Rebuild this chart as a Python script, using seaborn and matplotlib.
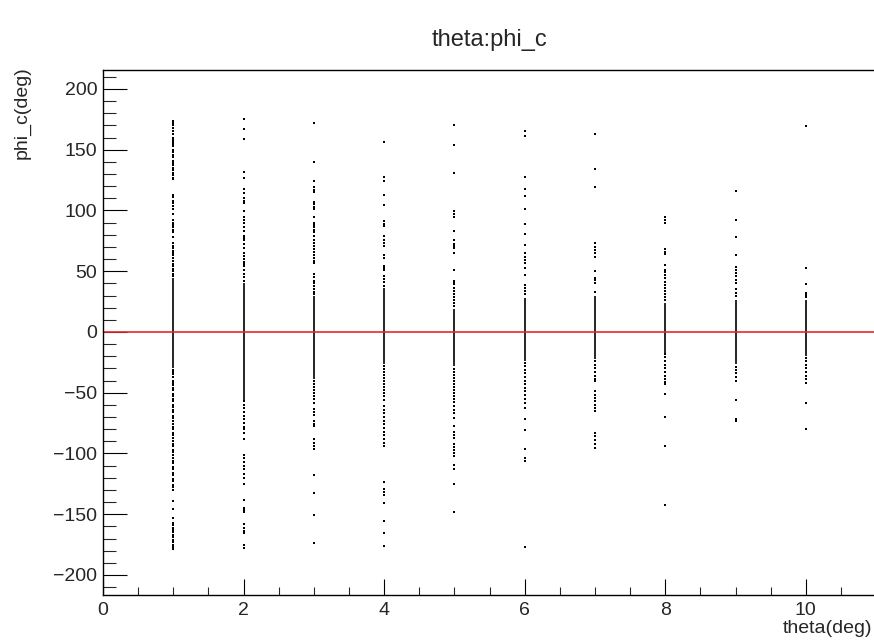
import matplotlib
matplotlib.use("Agg")
import matplotlib.pyplot as plt
from matplotlib.ticker import MultipleLocator
import pandas as pd
import seaborn as sns

# theta of each column (deg)
thetas = [1, 2, 3, 4, 5, 6, 7, 8, 9, 10]

# range where the markers overlap into a solid core
core_lo = [-29.5, -55.6, -39.0, -26.7, -28.0, -24.0, -22.6, -17.1, -26.7, -19.9]
core_hi = [44.6, 40.0, 29.5, 35.9, 18.5, 28.0, 29.5, 24.0, 26.5, 26.7]

# single events outside the core
phi_1 = [174, 172, 170, 168, 165, 163, 160, 158, 156, 155, 153, 150, 148, 146,
         144, 141, 139, 137, 135, 133, 131, 129, 127, 125.5, 113, 111, 108, 106,
         104, 101, 97, 92, 90, 88, 86, 84, 82, 78, 73, 71, 69, 67, 65, 63, 61,
         58, 56, 54, 52, 50, 48, 46,
         -31, -33, -35, -37, -40, -42, -44, -46, -48, -51, -53, -55, -57, -60,
         -62, -64, -66, -69, -71, -73, -76, -78, -80, -83, -85, -87, -90, -92,
         -94, -97, -99, -101, -104, -106, -108, -111, -113, -116, -118, -121,
         -123, -126, -128, -130, -139, -146, -153, -157, -159, -161, -163, -165,
         -167, -169, -171, -173, -175, -177, -179]
phi_2 = [175, 167, 159, 132, 127, 118, 114.5, 110, 108, 106, 99.5, 95, 92.5, 90,
         86, 83, 78.8, 77, 75.5, 72, 69.3, 65, 62.5, 60, 57.5, 55.6, 54, 51, 48,
         45, 42,
         -57, -60, -63, -66, -69, -72, -75, -78, -80, -83, -88.5, -101, -104,
         -107, -110, -112.6, -117, -120, -125.5, -138, -144.7, -146.5, -148.3,
         -158.4, -161, -163.5, -165.3, -175, -177.6]
phi_3 = [172, 140, 124, 119, 117, 115, 107, 105, 103, 101, 95, 90, 88, 86, 84,
         82, 78.8, 76, 73.5, 71, 68.5, 66, 63.5, 61, 58.5, 57, 47.3, 45, 42, 40,
         37.5, 35, 33, 31,
         -40.5, -43, -45.5, -48, -50.5, -53, -55.5, -58.3, -63.8, -66, -68.7,
         -73.4, -75.5, -77.5, -88.5, -91, -93.5, -96.2, -117.8, -132.9, -151,
         -173.5]
phi_4 = [156, 127.6, 124.6, 112.6, 104.6, 91, 89, 87, 79, 76, 73.5, 71, 63.7, 61,
         54, 52.3, 50.7, 46, 43.5, 41, 38,
         -28, -30.5, -33, -35.5, -38, -40.5, -43, -45.5, -48, -50.5, -53, -55.6,
         -61, -64, -67, -70, -73, -76, -79, -82, -85, -88, -91, -94, -123.6,
         -129.6, -132, -134.3, -140.6, -155.7, -165.8, -176.3]
phi_5 = [170, 153.8, 131, 99.6, 97, 95, 83, 76, 72.5, 71, 69.3, 64.6, 51, 42,
         40.5, 39.1, 36.3, 34, 31.5, 29, 26.5, 24, 21.4,
         -30.3, -33, -35.5, -38, -40.5, -43, -45.5, -48, -50.5, -53, -55.5, -58,
         -61, -64, -67, -70.6, -77.5, -82.4, -85, -87.1, -92.6, -95, -97.5, -100,
         -102.2, -109.6, -113.2, -125.5, -148.3]
phi_6 = [165.3, 161.5, 127.4, 117.3, 111.5, 100.8, 88.7, 80.8, 71.8, 65, 62,
         59.5, 57, 53, 47, 38.8, 36, 33.5, 31,
         -25.4, -28, -31, -34, -37, -40, -43, -46, -49, -52, -55, -58.5, -62.4,
         -71.5, -81, -96.2, -103.6, -106.3, -176.8]
phi_7 = [162.8, 134.3, 119.5, 73, 70, 67.5, 65, 62, 50, 44.6, 42.5, 40.4, 32.8,
         -24, -27, -30, -33, -36, -38.5, -40.5, -48.7, -51.5, -54, -57, -60,
         -62.5, -65.2, -83, -86, -89, -92, -95.3]
phi_8 = [94.8, 92, 89.3, 68.5, 66, 63.8, 55.5, 51.4, 49, 46.5, 44, 41.5, 39,
         36.5, 34, 31.5, 29, 26.7,
         -18.5, -21, -24, -27, -30, -33, -36, -39, -41, -43.2, -51.4, -70, -94,
         -142.8]
phi_9 = [115.9, 92, 78.3, 63.5, 53.7, 51, 48.5, 46, 43, 40.5, 35, 32, 29.6,
         -28.7, -31, -34, -37, -40.5, -56, -71.5, -73]
phi_10 = [169.7, 53, 39.4, 32.3, 30.5, 29,
          -21.3, -24, -27, -30, -33, -36, -39, -42.4, -58.3, -80.2]

columns = [phi_1, phi_2, phi_3, phi_4, phi_5, phi_6, phi_7, phi_8, phi_9, phi_10]
df = pd.concat([pd.DataFrame({"theta": t, "phi_c": p}) for t, p in zip(thetas, columns)],
               ignore_index=True)

sns.set_style("ticks")
plt.rcParams['font.family'] = ['Liberation Sans', 'DejaVu Sans']

fig = plt.figure(figsize=(8.74, 6.4), dpi=100)
ax = fig.add_axes([103 / 874, 45 / 640, 771 / 874, 525 / 640])

# solid cores, then the scattered events on top
ax.vlines(thetas, core_lo, core_hi, colors='black', linewidth=1.2)
sns.scatterplot(data=df, x='theta', y='phi_c', marker='s', s=2.2, color='black',
                linewidth=0, ax=ax)
ax.axhline(0, color='#e8282a', linewidth=1.2)

ax.set_xlim(0, 10.97)
ax.set_ylim(-216.5, 215.6)
ax.xaxis.set_major_locator(MultipleLocator(2))
ax.xaxis.set_minor_locator(MultipleLocator(0.5))
ax.yaxis.set_major_locator(MultipleLocator(50))
ax.yaxis.set_minor_locator(MultipleLocator(10))

ax.tick_params(axis='y', which='major', direction='in', length=17, width=0.8,
               labelsize=14, pad=4, color='black')
ax.tick_params(axis='y', which='minor', direction='in', length=9.3, width=0.8)
ax.tick_params(axis='x', which='major', direction='in', length=11.5, width=0.8,
               labelsize=14, pad=5, color='black')
ax.tick_params(axis='x', which='minor', direction='in', length=5.8, width=0.8)
ax.tick_params(top=False, right=False, which='both')

for side in ['left', 'bottom', 'top']:
    ax.spines[side].set_color('black')
    ax.spines[side].set_linewidth(1.0)
ax.spines['right'].set_visible(False)

ax.set_xlabel('')
ax.set_ylabel('')
fig.text(872 / 874, 1 - 620 / 640, 'theta(deg)', ha='right', va='top', fontsize=14)
fig.text(22 / 874, 1 - 66 / 640, 'phi_c(deg)', ha='center', va='top',
         rotation=90, fontsize=14)
fig.text(490 / 874, 1 - 40 / 640, 'theta:phi_c', ha='center', va='center',
         fontsize=17)

fig.savefig('out.png', dpi=100)
